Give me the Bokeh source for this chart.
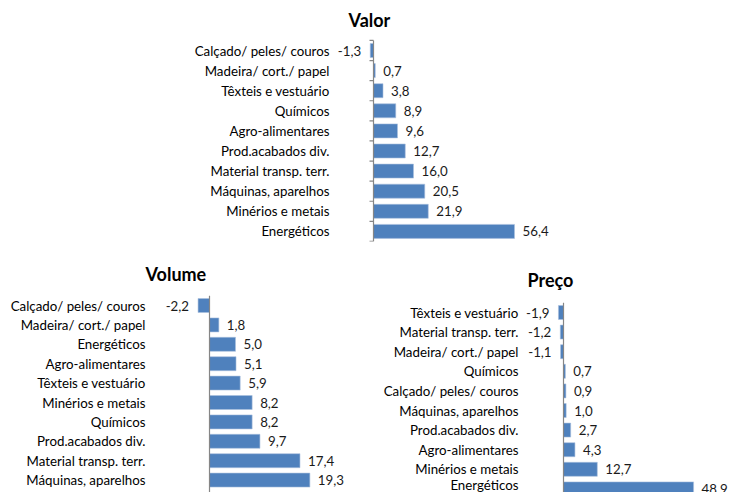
from bokeh.plotting import figure
from bokeh.models import Range1d, FixedTicker, Label, ColumnDataSource, Spacer
from bokeh.layouts import column, row
from bokeh.core.properties import value, field
from bokeh.embed import file_html
from bokeh.resources import INLINE

# ---- data ----
valor_cats = ["Calçado/ peles/ couros", "Madeira/ cort./ papel", "Têxteis e vestuário",
              "Químicos", "Agro-alimentares", "Prod.acabados div.",
              "Material transp. terr.", "Máquinas, aparelhos", "Minérios e metais",
              "Energéticos"]
valor_vals = [-1.3, 0.7, 3.8, 8.9, 9.6, 12.7, 16.0, 20.5, 21.9, 56.4]

volume_cats = ["Calçado/ peles/ couros", "Madeira/ cort./ papel", "Energéticos",
               "Agro-alimentares", "Têxteis e vestuário", "Minérios e metais",
               "Químicos", "Prod.acabados div.", "Material transp. terr.",
               "Máquinas, aparelhos"]
volume_vals = [-2.2, 1.8, 5.0, 5.1, 5.9, 8.2, 8.2, 9.7, 17.4, 19.3]

preco_cats = ["Têxteis e vestuário", "Material transp. terr.", "Madeira/ cort./ papel",
              "Químicos", "Calçado/ peles/ couros", "Máquinas, aparelhos",
              "Prod.acabados div.", "Agro-alimentares", "Minérios e metais",
              "Energéticos"]
preco_vals = [-1.9, -1.2, -1.1, 0.7, 0.9, 1.0, 2.7, 4.3, 12.7, 48.9]

FONT = "Lato"
BAR = "#4F81BD"
AXIS = "#868686"


def fmt(v):
    return f"{v:.1f}".replace(".", ",")


def make_chart(title, cats, vals, width, height, border_left, frame_w, frame_h,
               zero_px, px_per_unit, row_px, top_pad_px, bar_px, standoff,
               title_px, title_baseline_px, ticks):
    n = len(cats)
    ys = list(range(n))
    x_start = -zero_px / px_per_unit
    x_end = (frame_w - zero_px) / px_per_unit
    y_top = -top_pad_px / row_px
    y_bottom = y_top + frame_h / row_px
    p = figure(width=width, height=height, output_backend="svg", toolbar_location=None,
               x_range=Range1d(x_start, x_end), y_range=Range1d(y_bottom, y_top),
               x_axis_location=None,
               min_border_left=border_left, min_border_top=0,
               min_border_right=width - border_left - frame_w,
               min_border_bottom=height - frame_h)
    p.grid.visible = False
    p.outline_line_color = None
    p.background_fill_color = "white"
    p.border_fill_color = "white"

    ax = p.yaxis[0]
    ax.ticker = FixedTicker(ticks=ys)
    ax.major_label_overrides = {i: c for i, c in enumerate(cats)}
    ax.axis_line_color = None
    ax.major_tick_line_color = None
    ax.minor_tick_line_color = None
    ax.major_tick_out = 0
    ax.major_tick_in = 0
    ax.minor_tick_out = 0
    ax.major_label_standoff = standoff
    ax.major_label_text_font = FONT
    ax.major_label_text_font_size = "13.3px"
    ax.major_label_text_color = "#000000"

    p.hbar(y=ys, right=vals, left=0, height=bar_px / row_px,
           fill_color=BAR, line_color="#A9C0DE", line_width=0.6)

    # category axis line at zero, from the first category boundary downwards
    p.segment(x0=[0], y0=[-0.5], x1=[0], y1=[y_bottom], line_color=AXIS, line_width=1.2)
    if ticks:
        bounds = [i - 0.5 for i in range(n + 1)]
        tl = 4 / px_per_unit
        p.segment(x0=[-tl] * len(bounds), y0=bounds, x1=[0] * len(bounds), y1=bounds,
                  line_color=AXIS, line_width=1.2)

    src = ColumnDataSource(dict(
        x=vals, y=ys, label=[fmt(v) for v in vals],
        align=["left" if v >= 0 else "right" for v in vals],
        xo=[8 if v >= 0 else -9 for v in vals]))
    p.text(x="x", y="y", text="label", source=src, text_align=field("align"),
           x_offset=field("xo"), text_baseline="middle", text_font=value(FONT),
           text_font_size="13.3px", text_color="#1a1a1a")

    p.add_layout(Label(x=x_start + (title_px - border_left) / px_per_unit,
                       y=y_top + title_baseline_px / row_px,
                       text=title, text_align="left", text_baseline="alphabetic",
                       text_font=FONT, text_font_size="18px", text_font_style="bold",
                       text_color="#000000"))
    return p


valor = make_chart("Valor", valor_cats, valor_vals, width=378, height=255,
                   border_left=153, frame_w=220, frame_h=241,
                   zero_px=40, px_per_unit=2.5, row_px=20.1, top_pad_px=50,
                   bar_px=14, standoff=4, title_px=168, title_baseline_px=19,
                   ticks=True)
volume = make_chart("Volume", volume_cats, volume_vals, width=355, height=237,
                    border_left=143, frame_w=207, frame_h=237,
                    zero_px=66, px_per_unit=5.2, row_px=19.4, top_pad_px=50,
                    bar_px=14, standoff=-2, title_px=145, title_baseline_px=18,
                    ticks=False)
preco = make_chart("Preço", preco_cats, preco_vals, width=376, height=237,
                   border_left=167, frame_w=209, frame_h=237,
                   zero_px=41, px_per_unit=2.66, row_px=19.6, top_pad_px=57,
                   bar_px=14, standoff=4, title_px=172, title_baseline_px=24,
                   ticks=False)

layout = column(row(Spacer(width=180, height=255), valor), row(volume, preco),
                spacing=0)

open("out.html", "w").write(file_html(layout, INLINE))
